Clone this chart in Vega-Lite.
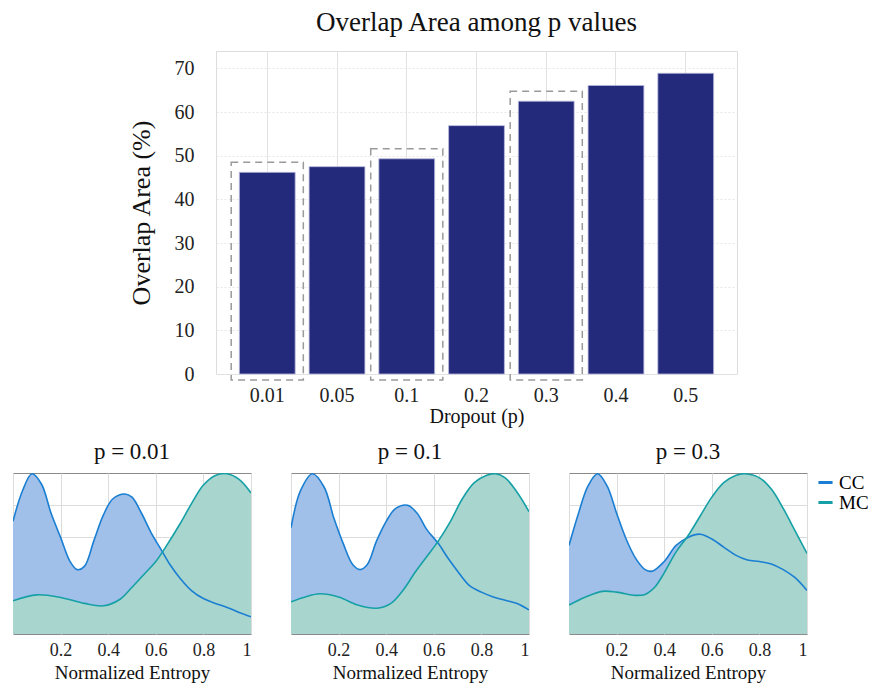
{
  "$schema": "https://vega.github.io/schema/vega-lite/v6.json",
  "padding": {"left": 12, "top": 8, "right": 5, "bottom": 5},
  "background": "white",
  "config": {
    "font": "Liberation Serif",
    "view": {"stroke": null},
    "axis": {"labelFont": "Liberation Serif", "titleFont": "Liberation Serif", "labelColor": "#222", "titleColor": "#111", "titleFontWeight": "normal"},
    "header": {"labelFont": "Liberation Serif", "titleFont": "Liberation Serif"},
    "legend": {"labelFont": "Liberation Serif"}
  },
  "datasets": {
    "overlap": [
      {"p": "0.01", "overlap": 46.2, "zoomed": true},
      {"p": "0.05", "overlap": 47.5, "zoomed": false},
      {"p": "0.1", "overlap": 49.3, "zoomed": true},
      {"p": "0.2", "overlap": 56.9, "zoomed": false},
      {"p": "0.3", "overlap": 62.5, "zoomed": true},
      {"p": "0.4", "overlap": 66.1, "zoomed": false},
      {"p": "0.5", "overlap": 68.9, "zoomed": false}
    ],
    "dens": [
      {"p": "0.01", "s": "CC", "x": 0, "d": 0.70},
      {"p": "0.01", "s": "CC", "x": 0.04, "d": 0.89},
      {"p": "0.01", "s": "CC", "x": 0.08, "d": 0.995},
      {"p": "0.01", "s": "CC", "x": 0.12, "d": 0.93},
      {"p": "0.01", "s": "CC", "x": 0.16, "d": 0.75},
      {"p": "0.01", "s": "CC", "x": 0.20, "d": 0.60},
      {"p": "0.01", "s": "CC", "x": 0.24, "d": 0.45},
      {"p": "0.01", "s": "CC", "x": 0.27, "d": 0.40},
      {"p": "0.01", "s": "CC", "x": 0.30, "d": 0.42},
      {"p": "0.01", "s": "CC", "x": 0.34, "d": 0.58},
      {"p": "0.01", "s": "CC", "x": 0.38, "d": 0.74},
      {"p": "0.01", "s": "CC", "x": 0.42, "d": 0.84},
      {"p": "0.01", "s": "CC", "x": 0.47, "d": 0.87},
      {"p": "0.01", "s": "CC", "x": 0.50, "d": 0.85},
      {"p": "0.01", "s": "CC", "x": 0.54, "d": 0.75},
      {"p": "0.01", "s": "CC", "x": 0.58, "d": 0.63},
      {"p": "0.01", "s": "CC", "x": 0.62, "d": 0.53},
      {"p": "0.01", "s": "CC", "x": 0.66, "d": 0.43},
      {"p": "0.01", "s": "CC", "x": 0.70, "d": 0.35},
      {"p": "0.01", "s": "CC", "x": 0.75, "d": 0.27},
      {"p": "0.01", "s": "CC", "x": 0.80, "d": 0.22},
      {"p": "0.01", "s": "CC", "x": 0.85, "d": 0.19},
      {"p": "0.01", "s": "CC", "x": 0.90, "d": 0.165},
      {"p": "0.01", "s": "CC", "x": 0.95, "d": 0.134},
      {"p": "0.01", "s": "CC", "x": 1.0, "d": 0.107},
      {"p": "0.01", "s": "MC", "x": 0, "d": 0.206},
      {"p": "0.01", "s": "MC", "x": 0.1, "d": 0.243},
      {"p": "0.01", "s": "MC", "x": 0.2, "d": 0.227},
      {"p": "0.01", "s": "MC", "x": 0.3, "d": 0.19},
      {"p": "0.01", "s": "MC", "x": 0.38, "d": 0.175},
      {"p": "0.01", "s": "MC", "x": 0.45, "d": 0.216},
      {"p": "0.01", "s": "MC", "x": 0.5, "d": 0.29},
      {"p": "0.01", "s": "MC", "x": 0.55, "d": 0.37},
      {"p": "0.01", "s": "MC", "x": 0.6, "d": 0.45},
      {"p": "0.01", "s": "MC", "x": 0.65, "d": 0.56},
      {"p": "0.01", "s": "MC", "x": 0.7, "d": 0.68},
      {"p": "0.01", "s": "MC", "x": 0.75, "d": 0.81},
      {"p": "0.01", "s": "MC", "x": 0.8, "d": 0.925},
      {"p": "0.01", "s": "MC", "x": 0.85, "d": 0.985},
      {"p": "0.01", "s": "MC", "x": 0.9, "d": 0.995},
      {"p": "0.01", "s": "MC", "x": 0.95, "d": 0.96},
      {"p": "0.01", "s": "MC", "x": 1.0, "d": 0.876},
      {"p": "0.1", "s": "CC", "x": 0, "d": 0.66},
      {"p": "0.1", "s": "CC", "x": 0.04, "d": 0.89},
      {"p": "0.1", "s": "CC", "x": 0.09, "d": 0.995},
      {"p": "0.1", "s": "CC", "x": 0.14, "d": 0.91},
      {"p": "0.1", "s": "CC", "x": 0.18, "d": 0.72},
      {"p": "0.1", "s": "CC", "x": 0.22, "d": 0.56},
      {"p": "0.1", "s": "CC", "x": 0.26, "d": 0.43},
      {"p": "0.1", "s": "CC", "x": 0.29, "d": 0.40},
      {"p": "0.1", "s": "CC", "x": 0.32, "d": 0.43},
      {"p": "0.1", "s": "CC", "x": 0.36, "d": 0.58},
      {"p": "0.1", "s": "CC", "x": 0.40, "d": 0.70},
      {"p": "0.1", "s": "CC", "x": 0.44, "d": 0.78},
      {"p": "0.1", "s": "CC", "x": 0.49, "d": 0.80},
      {"p": "0.1", "s": "CC", "x": 0.53, "d": 0.75},
      {"p": "0.1", "s": "CC", "x": 0.57, "d": 0.65},
      {"p": "0.1", "s": "CC", "x": 0.62, "d": 0.56},
      {"p": "0.1", "s": "CC", "x": 0.66, "d": 0.47},
      {"p": "0.1", "s": "CC", "x": 0.70, "d": 0.39},
      {"p": "0.1", "s": "CC", "x": 0.75, "d": 0.30},
      {"p": "0.1", "s": "CC", "x": 0.80, "d": 0.26},
      {"p": "0.1", "s": "CC", "x": 0.85, "d": 0.23},
      {"p": "0.1", "s": "CC", "x": 0.90, "d": 0.21},
      {"p": "0.1", "s": "CC", "x": 0.95, "d": 0.19},
      {"p": "0.1", "s": "CC", "x": 1.0, "d": 0.15},
      {"p": "0.1", "s": "MC", "x": 0, "d": 0.20},
      {"p": "0.1", "s": "MC", "x": 0.06, "d": 0.23},
      {"p": "0.1", "s": "MC", "x": 0.12, "d": 0.25},
      {"p": "0.1", "s": "MC", "x": 0.2, "d": 0.23},
      {"p": "0.1", "s": "MC", "x": 0.28, "d": 0.18},
      {"p": "0.1", "s": "MC", "x": 0.36, "d": 0.16},
      {"p": "0.1", "s": "MC", "x": 0.42, "d": 0.19},
      {"p": "0.1", "s": "MC", "x": 0.47, "d": 0.27},
      {"p": "0.1", "s": "MC", "x": 0.52, "d": 0.38},
      {"p": "0.1", "s": "MC", "x": 0.57, "d": 0.48},
      {"p": "0.1", "s": "MC", "x": 0.62, "d": 0.58},
      {"p": "0.1", "s": "MC", "x": 0.67, "d": 0.70},
      {"p": "0.1", "s": "MC", "x": 0.72, "d": 0.84},
      {"p": "0.1", "s": "MC", "x": 0.77, "d": 0.94},
      {"p": "0.1", "s": "MC", "x": 0.82, "d": 0.985},
      {"p": "0.1", "s": "MC", "x": 0.86, "d": 0.995},
      {"p": "0.1", "s": "MC", "x": 0.90, "d": 0.97},
      {"p": "0.1", "s": "MC", "x": 0.95, "d": 0.88},
      {"p": "0.1", "s": "MC", "x": 1.0, "d": 0.76},
      {"p": "0.3", "s": "CC", "x": 0, "d": 0.55},
      {"p": "0.3", "s": "CC", "x": 0.04, "d": 0.75},
      {"p": "0.3", "s": "CC", "x": 0.08, "d": 0.92},
      {"p": "0.3", "s": "CC", "x": 0.12, "d": 0.995},
      {"p": "0.3", "s": "CC", "x": 0.16, "d": 0.92},
      {"p": "0.3", "s": "CC", "x": 0.20, "d": 0.75},
      {"p": "0.3", "s": "CC", "x": 0.24, "d": 0.59},
      {"p": "0.3", "s": "CC", "x": 0.28, "d": 0.47},
      {"p": "0.3", "s": "CC", "x": 0.32, "d": 0.40},
      {"p": "0.3", "s": "CC", "x": 0.35, "d": 0.39},
      {"p": "0.3", "s": "CC", "x": 0.40, "d": 0.45},
      {"p": "0.3", "s": "CC", "x": 0.45, "d": 0.55},
      {"p": "0.3", "s": "CC", "x": 0.50, "d": 0.60},
      {"p": "0.3", "s": "CC", "x": 0.55, "d": 0.62},
      {"p": "0.3", "s": "CC", "x": 0.60, "d": 0.59},
      {"p": "0.3", "s": "CC", "x": 0.65, "d": 0.54},
      {"p": "0.3", "s": "CC", "x": 0.70, "d": 0.49},
      {"p": "0.3", "s": "CC", "x": 0.75, "d": 0.46},
      {"p": "0.3", "s": "CC", "x": 0.80, "d": 0.45},
      {"p": "0.3", "s": "CC", "x": 0.85, "d": 0.435},
      {"p": "0.3", "s": "CC", "x": 0.90, "d": 0.40},
      {"p": "0.3", "s": "CC", "x": 0.95, "d": 0.35},
      {"p": "0.3", "s": "CC", "x": 1.0, "d": 0.27},
      {"p": "0.3", "s": "MC", "x": 0, "d": 0.18},
      {"p": "0.3", "s": "MC", "x": 0.07, "d": 0.23},
      {"p": "0.3", "s": "MC", "x": 0.14, "d": 0.265},
      {"p": "0.3", "s": "MC", "x": 0.20, "d": 0.26},
      {"p": "0.3", "s": "MC", "x": 0.28, "d": 0.24},
      {"p": "0.3", "s": "MC", "x": 0.32, "d": 0.246},
      {"p": "0.3", "s": "MC", "x": 0.36, "d": 0.29},
      {"p": "0.3", "s": "MC", "x": 0.40, "d": 0.38},
      {"p": "0.3", "s": "MC", "x": 0.45, "d": 0.51},
      {"p": "0.3", "s": "MC", "x": 0.50, "d": 0.61},
      {"p": "0.3", "s": "MC", "x": 0.55, "d": 0.73},
      {"p": "0.3", "s": "MC", "x": 0.60, "d": 0.85},
      {"p": "0.3", "s": "MC", "x": 0.65, "d": 0.94},
      {"p": "0.3", "s": "MC", "x": 0.70, "d": 0.985},
      {"p": "0.3", "s": "MC", "x": 0.74, "d": 0.995},
      {"p": "0.3", "s": "MC", "x": 0.80, "d": 0.97},
      {"p": "0.3", "s": "MC", "x": 0.85, "d": 0.90},
      {"p": "0.3", "s": "MC", "x": 0.90, "d": 0.78},
      {"p": "0.3", "s": "MC", "x": 0.95, "d": 0.64},
      {"p": "0.3", "s": "MC", "x": 1.0, "d": 0.50}
    ]
  },
  "vconcat": [
    {
      "spacing": 0,
      "hconcat": [
        {
          "width": 114,
          "height": 323,
          "data": {"values": []},
          "mark": "point",
          "view": {"fill": "white", "stroke": null}
        },
        {
          "width": 521,
          "height": 323,
          "title": {"text": "Overlap Area among p values", "fontSize": 27, "fontWeight": "normal", "font": "Liberation Serif", "color": "#111", "offset": 14, "frame": "group"},
          "data": {"name": "overlap"},
          "view": {"stroke": "#dddddd"},
          "encoding": {
            "x": {
              "field": "p", "type": "nominal", "sort": null,
              "scale": {"paddingInner": 0, "paddingOuter": 0.235},
              "axis": {"title": "Dropout (p)", "labelAngle": 0, "labelFontSize": 20, "titleFontSize": 20, "ticks": false, "domain": false, "labelPadding": 11, "titlePadding": 1, "grid": true, "gridColor": "#e2e2e2"}
            },
            "y": {
              "field": "overlap", "type": "quantitative",
              "scale": {"domain": [0, 74], "nice": false},
              "axis": {"title": "Overlap Area (%)", "values": [0, 10, 20, 30, 40, 50, 60, 70], "labelFontSize": 20, "titleFontSize": 26, "ticks": false, "domain": false, "labelPadding": 22, "titlePadding": 20, "gridColor": "#e6e6e6", "gridDash": [2, 2]}
            }
          },
          "layer": [
            {
              "mark": {"type": "bar", "width": {"band": 0.8}, "color": "#232a7b", "stroke": "#b9b9dc", "strokeWidth": 0.8}
            },
            {
              "transform": [{"filter": "datum.zoomed"}],
              "mark": {"type": "bar", "width": {"band": 1.034}, "fill": "transparent", "stroke": "#9a9a9a", "strokeWidth": 1.5, "strokeDash": [7, 5], "yOffset": -10, "y2Offset": 6},
              "encoding": {"y2": {"datum": 0}}
            }
          ]
        }
      ]
    },
    {
      "data": {"name": "dens"},
      "facet": {
        "column": {
          "field": "p", "type": "nominal", "sort": ["0.01", "0.1", "0.3"],
          "title": null,
          "header": {"labelExpr": "'p = ' + datum.value", "labelFontSize": 23, "labelColor": "#111", "labelPadding": 8}
        }
      },
      "spacing": 38,
      "spec": {
        "width": 238,
        "height": 161,
        "view": {"stroke": "#8a8a8a"},
        "encoding": {
          "x": {
            "field": "x", "type": "quantitative",
            "scale": {"domain": [0, 1], "nice": false},
            "axis": {"title": "Normalized Entropy", "values": [0, 0.2, 0.4, 0.6, 0.8, 1], "labelExpr": "datum.value == 0 ? '' : format(datum.value, '~g')", "labelFontSize": 18, "titleFontSize": 19, "ticks": false, "domain": false, "labelPadding": 6, "titlePadding": 4, "gridColor": "#dcdcdc"}
          },
          "y": {
            "field": "d", "type": "quantitative",
            "scale": {"domain": [0, 1], "nice": false},
            "axis": {"title": null, "labels": false, "ticks": false, "domain": false, "values": [0.2, 0.4, 0.6, 0.8], "gridColor": "#dcdcdc", "minExtent": 0, "maxExtent": 0, "labelPadding": 0}
          }
        },
        "layer": [
          {
            "mark": {"type": "area", "interpolate": "catmull-rom", "opacity": 1, "clip": true},
            "encoding": {
              "y": {"field": "d", "type": "quantitative", "stack": null},
              "fill": {"field": "s", "type": "nominal", "scale": {"domain": ["CC", "MC"], "range": ["#a0c0ea", "#a8d5ce"]}, "legend": null}
            }
          },
          {
            "mark": {"type": "line", "interpolate": "catmull-rom", "strokeWidth": 1.6, "clip": true},
            "encoding": {
              "color": {"field": "s", "type": "nominal", "scale": {"domain": ["CC", "MC"], "range": ["#1a7fd2", "#15a0a6"]}, "legend": {"title": null, "symbolType": "stroke", "symbolStrokeWidth": 3, "symbolSize": 200, "labelFontSize": 19, "rowPadding": -7, "offset": 8}}
            }
          }
        ]
      }
    }
  ],
  "spacing": 14,
  "resolve": {"legend": {"color": "independent"}}
}
